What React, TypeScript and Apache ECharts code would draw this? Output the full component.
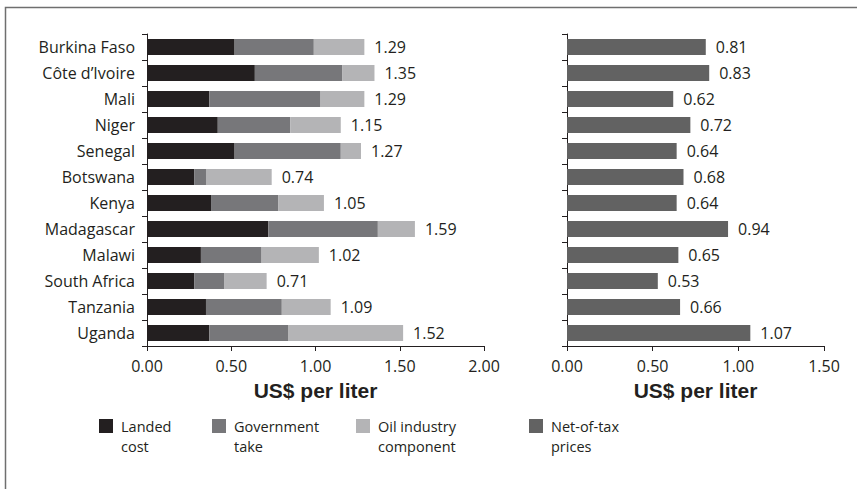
import React, { useEffect, useRef } from "react";
import * as echarts from "echarts";

const countries = [
  "Burkina Faso",
  "Côte d’Ivoire",
  "Mali",
  "Niger",
  "Senegal",
  "Botswana",
  "Kenya",
  "Madagascar",
  "Malawi",
  "South Africa",
  "Tanzania",
  "Uganda",
];
const landedCost = [0.52, 0.64, 0.37, 0.42, 0.52, 0.28, 0.38, 0.72, 0.32, 0.28, 0.35, 0.37];
const governmentTake = [0.47, 0.52, 0.66, 0.43, 0.63, 0.07, 0.4, 0.65, 0.36, 0.18, 0.45, 0.47];
const oilIndustry = [0.3, 0.19, 0.26, 0.3, 0.12, 0.39, 0.27, 0.22, 0.34, 0.25, 0.29, 0.68];
const totals = [1.29, 1.35, 1.29, 1.15, 1.27, 0.74, 1.05, 1.59, 1.02, 0.71, 1.09, 1.52];
const netOfTax = [0.81, 0.83, 0.62, 0.72, 0.64, 0.68, 0.64, 0.94, 0.65, 0.53, 0.66, 1.07];

const legendItems = [
  { name: "Landed\ncost", color: "#231f20" },
  { name: "Government\ntake", color: "#77777a" },
  { name: "Oil industry\ncomponent", color: "#b4b4b6" },
  { name: "Net-of-tax\nprices", color: "#626262" },
];

const FONT = "Open Sans";
const TEXT = "#231f20";

export default function App() {
  const ref = useRef<HTMLDivElement>(null);
  useEffect(() => {
    const chart = echarts.init(ref.current!, null, { renderer: "svg" });
    const legendX = [99, 212, 356, 529];
    const graphic: any[] = [
      {
        type: "polyline",
        shape: { points: [[5.5, 489], [5.5, 7.5], [857, 7.5]] },
        style: { stroke: "#6f6f6f", lineWidth: 1.5, fill: null },
        silent: true,
      },
    ];
    legendItems.forEach((it, i) => {
      graphic.push({
        type: "rect",
        shape: { x: legendX[i], y: 419, width: 14, height: 14 },
        style: { fill: it.color },
      });
      graphic.push({
        type: "text",
        x: legendX[i] + 22,
        y: 416,
        style: {
          text: it.name,
          font: `14.5px "${FONT}"`,
          fill: TEXT,
          lineHeight: 20,
        },
      });
    });

    const valueAxisCommon = {
      type: "value",
      interval: 0.5,
      min: 0,
      nameLocation: "middle",
      nameGap: 34,
      nameTextStyle: {
        fontFamily: "Liberation Sans",
        fontWeight: "bold",
        fontSize: 21,
        color: TEXT,
      },
      axisLine: { show: true, lineStyle: { color: TEXT, width: 1 } },
      axisTick: { show: true, inside: false, length: 5, lineStyle: { color: TEXT } },
      axisLabel: {
        formatter: (v: number) => v.toFixed(2),
        fontFamily: FONT,
        fontSize: 16,
        color: TEXT,
        margin: 12,
      },
      splitLine: { show: false },
    };
    const catAxisCommon = {
      type: "category",
      data: countries,
      inverse: true,
      axisLine: { show: true, lineStyle: { color: TEXT, width: 1 } },
      axisTick: { show: true, inside: false, length: 5, lineStyle: { color: TEXT } },
    };

    const labelStyle = {
      show: true,
      position: "right",
      distance: 10,
      fontFamily: FONT,
      fontSize: 16,
      color: TEXT,
    };

    chart.setOption({
      animation: false,
      backgroundColor: "#fff",
      textStyle: { fontFamily: FONT },
      grid: [
        { left: 147, top: 34, width: 337, height: 312 },
        { left: 567, top: 34, width: 257, height: 312 },
      ],
      xAxis: [
        { ...valueAxisCommon, gridIndex: 0, max: 2, name: "US$ per liter" },
        { ...valueAxisCommon, gridIndex: 1, max: 1.5, name: "US$ per liter" },
      ],
      yAxis: [
        {
          ...catAxisCommon,
          gridIndex: 0,
          axisLabel: { fontFamily: FONT, fontSize: 16, color: TEXT, margin: 12 },
        },
        { ...catAxisCommon, gridIndex: 1, axisLabel: { show: false } },
      ],
      series: [
        {
          name: "Landed cost",
          type: "bar",
          stack: "a",
          xAxisIndex: 0,
          yAxisIndex: 0,
          data: landedCost,
          barWidth: 16,
          itemStyle: { color: legendItems[0].color },
        },
        {
          name: "Government take",
          type: "bar",
          stack: "a",
          xAxisIndex: 0,
          yAxisIndex: 0,
          data: governmentTake,
          barWidth: 16,
          itemStyle: { color: legendItems[1].color },
        },
        {
          name: "Oil industry component",
          type: "bar",
          stack: "a",
          xAxisIndex: 0,
          yAxisIndex: 0,
          data: oilIndustry,
          barWidth: 16,
          itemStyle: { color: legendItems[2].color },
          label: {
            ...labelStyle,
            formatter: (p: any) => totals[p.dataIndex].toFixed(2),
          },
        },
        {
          name: "Net-of-tax prices",
          type: "bar",
          xAxisIndex: 1,
          yAxisIndex: 1,
          data: netOfTax,
          barWidth: 16,
          itemStyle: { color: legendItems[3].color },
          label: {
            ...labelStyle,
            formatter: (p: any) => Number(p.value).toFixed(2),
          },
        },
      ],
      graphic,
    });
    return () => chart.dispose();
  }, []);
  return (
    <div
      ref={ref}
      style={{ position: "absolute", left: 0, top: 0, width: 857, height: 489, background: "#fff" }}
    />
  );
}
